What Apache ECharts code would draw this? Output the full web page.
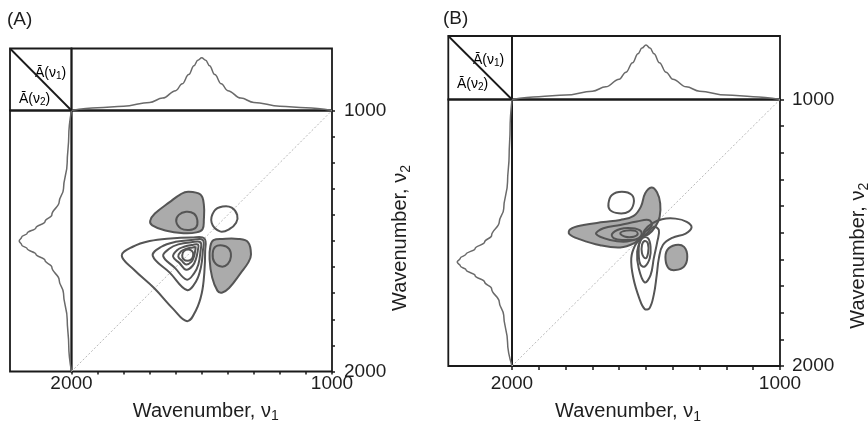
<!DOCTYPE html>
<html>
<head>
<meta charset="utf-8">
<script src="https://cdn.jsdelivr.net/npm/echarts@6/dist/echarts.min.js"></script>
<style>
  html, body { margin: 0; padding: 0; background: #ffffff; }
  #chart { width: 868px; height: 433px; }
</style>
</head>
<body>
<div id="chart"></div>
<script>
// ---- Averaged 1D spectra (wavenumber in cm-1, absorbance in relative units) ----
const specWnA = [1000, 1100, 1200, 1300, 1350, 1400, 1425, 1450, 1470, 1485, 1500, 1515, 1530, 1550, 1575, 1600, 1650, 1700, 1800, 1900, 2000];
const specA1  = [0.0, 0.045, 0.07, 0.13, 0.2, 0.32, 0.43, 0.58, 0.72, 0.81, 0.85, 0.81, 0.72, 0.58, 0.43, 0.32, 0.2, 0.13, 0.07, 0.045, 0.0];
const specA2  = [0.0, 0.045, 0.07, 0.13, 0.2, 0.32, 0.43, 0.58, 0.72, 0.81, 0.85, 0.81, 0.72, 0.58, 0.43, 0.32, 0.2, 0.13, 0.07, 0.045, 0.0];
const specWnB1 = [1000, 1100, 1200, 1300, 1350, 1400, 1425, 1450, 1470, 1485, 1500, 1515, 1530, 1550, 1575, 1600, 1650, 1700, 1800, 1900, 2000];
const specB1   = [0.0, 0.045, 0.07, 0.13, 0.2, 0.32, 0.43, 0.58, 0.72, 0.81, 0.86, 0.81, 0.72, 0.58, 0.43, 0.32, 0.2, 0.13, 0.07, 0.045, 0.0];
const specWnB2 = [1000, 1110, 1210, 1310, 1410, 1460, 1510, 1535, 1560, 1580, 1595, 1610, 1625, 1640, 1660, 1685, 1710, 1760, 1810, 1910, 2000];
const specB2   = [0.0, 0.03, 0.045, 0.07, 0.13, 0.2, 0.32, 0.43, 0.58, 0.72, 0.81, 0.86, 0.81, 0.72, 0.58, 0.43, 0.32, 0.2, 0.13, 0.07, 0.0];

// ---- Axis ticks ----
const tickStep = 100;
const tickLabels = [1000, 2000];

// ---- (A) synchronous map: contour outlines as [nu1, nu2] ----
const aNegUpperOuter = [[1552,1311],[1505,1322],[1492,1360],[1492,1420],[1497,1455],[1520,1467],[1570,1470],[1640,1460],[1690,1440],[1698,1423],[1680,1395],[1622,1350],[1580,1320]];
const aNegUpperInner = [[1598,1425],[1588,1400],[1560,1388],[1530,1395],[1517,1420],[1522,1448],[1548,1458],[1580,1452]];
const aNegLowerOuter = [[1311,1552],[1322,1505],[1360,1492],[1420,1492],[1455,1497],[1467,1520],[1470,1570],[1460,1640],[1440,1690],[1423,1698],[1395,1680],[1350,1622],[1320,1580]];
const aNegLowerInner = [[1425,1598],[1400,1588],[1388,1560],[1395,1530],[1420,1517],[1448,1522],[1458,1548],[1452,1580]];
const aPosSmall  = [[1462,1430],[1452,1385],[1420,1368],[1385,1372],[1364,1400],[1368,1430],[1395,1455],[1430,1463]];
const aPosLevel1 = [[1807,1556],[1765,1522],[1700,1500],[1620,1490],[1540,1487],[1490,1490],[1487,1540],[1490,1620],[1500,1700],[1522,1765],[1556,1807],[1610,1760],[1682,1681],[1760,1610]];
const aPosLevel2 = [[1688,1557],[1655,1522],[1600,1503],[1540,1496],[1496,1496],[1496,1540],[1503,1600],[1522,1655],[1557,1688],[1622,1622]];
const aPosLevel3 = [[1648,1558],[1625,1530],[1590,1513],[1540,1505],[1505,1505],[1505,1540],[1513,1590],[1530,1625],[1558,1648],[1603,1603]];
const aPosLevel4 = [[1610,1560],[1595,1535],[1568,1522],[1535,1515],[1514,1514],[1515,1535],[1522,1568],[1535,1595],[1560,1610],[1585,1585]];
const aPosLevel5 = [[1590,1560],[1580,1540],[1560,1530],[1535,1525],[1524,1524],[1525,1535],[1530,1560],[1540,1580],[1560,1590],[1576,1576]];
const aPosLevel6 = [[1575,1555],[1568,1538],[1550,1533],[1536,1540],[1533,1555],[1540,1570],[1555,1576],[1570,1570]];

// ---- (B) asynchronous map: contour outlines as [nu1, nu2] ----
const bNegOuter = [[1480,1330],[1459,1348],[1447,1390],[1449,1440],[1465,1477],[1490,1505],[1518,1516],[1546,1540],[1596,1555],[1671,1547],[1746,1525],[1786,1505],[1783,1487],[1733,1471],[1659,1460],[1596,1452],[1546,1437],[1519,1402],[1503,1352]];
const bNegLevel2 = [[1686,1505],[1659,1483],[1596,1471],[1534,1458],[1490,1452],[1478,1471],[1500,1494],[1524,1518],[1571,1533],[1634,1527]];
const bNegLevel3 = [[1627,1505],[1596,1486],[1553,1483],[1521,1492],[1519,1512],[1540,1525],[1584,1527],[1619,1521]];
const bNegLevel4 = [[1596,1502],[1574,1492],[1540,1493],[1531,1505],[1546,1515],[1577,1515]];
const bNegSmall  = [[1390,1640],[1358,1627],[1346,1590],[1358,1553],[1390,1546],[1421,1565],[1427,1602],[1415,1634]];
const bPosOuter  = [[1330,1480],[1348,1459],[1390,1447],[1440,1449],[1477,1465],[1505,1490],[1516,1518],[1540,1546],[1555,1596],[1547,1671],[1525,1746],[1505,1786],[1487,1783],[1471,1733],[1460,1659],[1452,1596],[1437,1546],[1402,1519],[1352,1503]];
const bPosLevel2 = [[1505,1686],[1483,1659],[1471,1596],[1458,1534],[1452,1490],[1471,1478],[1494,1500],[1518,1524],[1533,1571],[1527,1634]];
const bPosLevel3 = [[1505,1627],[1486,1596],[1483,1553],[1492,1521],[1512,1519],[1525,1540],[1527,1584],[1521,1619]];
const bPosLevel4 = [[1502,1596],[1492,1574],[1493,1540],[1505,1531],[1515,1546],[1515,1577]];
const bPosSmall  = [[1640,1390],[1627,1358],[1590,1346],[1553,1358],[1546,1390],[1565,1421],[1602,1427],[1634,1415]];

// Drawing order per panel (negative levels are shaded)
const contoursA = [
  { pts: aNegUpperOuter, neg: true }, { pts: aNegUpperInner, neg: true },
  { pts: aNegLowerOuter, neg: true }, { pts: aNegLowerInner, neg: true },
  { pts: aPosSmall, neg: false },
  { pts: aPosLevel1, neg: false }, { pts: aPosLevel2, neg: false }, { pts: aPosLevel3, neg: false },
  { pts: aPosLevel4, neg: false }, { pts: aPosLevel5, neg: false }, { pts: aPosLevel6, neg: false }
];
const contoursB = [
  { pts: bNegOuter, neg: true }, { pts: bNegLevel2, neg: true }, { pts: bNegLevel3, neg: true }, { pts: bNegLevel4, neg: true },
  { pts: bNegSmall, neg: true },
  { pts: bPosOuter, neg: false }, { pts: bPosLevel2, neg: false }, { pts: bPosLevel3, neg: false }, { pts: bPosLevel4, neg: false },
  { pts: bPosSmall, neg: false }
];

// ---- Styling ----
const FONT = "'Liberation Sans', Arial, Helvetica, sans-serif";
const FRAME = '#1a1a1a';
const CLINE = '#555555';
const SHADE = '#ababab';
const SPEC = '#6a6a6a';
const TEXT = '#1e1e1e';

// Panel frames in pixels: corner box size, map box
const layouts = [
  { left: 10, top: 48.5, stripW: 61.5, stripH: 62, mapW: 260.5, mapH: 261,
    tick: { len: 3, margin: 3 }, nameGapX: 27, nameGapY: 55, namePadX: [0, 0, 0, 8], namePadY: [0, 0, 0, 6],
    spec1: [specWnA, specA1], spec2: [specWnA, specA2], contours: contoursA },
  { left: 448.3, top: 36, stripW: 63.7, stripH: 63.5, mapW: 268, mapH: 266.5,
    tick: { len: 4, margin: 8 }, nameGapX: 33, nameGapY: 66, namePadX: [0, 36, 0, 0], namePadY: [0, 46, 0, 0],
    spec1: [specWnB1, specB1], spec2: [specWnB2, specB2], contours: contoursB }
];

const grids = [], xAxes = [], yAxes = [], series = [];
const hiddenAxis = { show: false, splitLine: { show: false } };

const nameRich = {
  t: { fontSize: 20, fontFamily: FONT, color: TEXT },
  s: { fontSize: 14, fontFamily: FONT, color: TEXT, padding: [11, 0, 0, 0] }
};

layouts.forEach(function (L) {
  const base = grids.length;
  const mapLeft = L.left + L.stripW, mapTop = L.top + L.stripH;
  const gridStyle = { show: true, borderColor: FRAME, borderWidth: 1.8, backgroundColor: 'transparent', outerBoundsMode: 'none', containLabel: false };
  // corner box, top strip, left strip, correlation map
  grids.push(Object.assign({ left: L.left, top: L.top, width: L.stripW, height: L.stripH }, gridStyle));
  grids.push(Object.assign({ left: mapLeft, top: L.top, width: L.mapW, height: L.stripH }, gridStyle));
  grids.push(Object.assign({ left: L.left, top: mapTop, width: L.stripW, height: L.mapH }, gridStyle));
  grids.push(Object.assign({ left: mapLeft, top: mapTop, width: L.mapW, height: L.mapH }, gridStyle));

  // corner box axes
  xAxes.push(Object.assign({ type: 'value', gridIndex: base, min: 0, max: 1 }, hiddenAxis));
  yAxes.push(Object.assign({ type: 'value', gridIndex: base, min: 0, max: 1 }, hiddenAxis));
  // top strip: nu1 horizontally, absorbance up
  xAxes.push(Object.assign({ type: 'value', gridIndex: base + 1, min: 1000, max: 2000, inverse: true }, hiddenAxis));
  yAxes.push(Object.assign({ type: 'value', gridIndex: base + 1, min: 0, max: 1 }, hiddenAxis));
  // left strip: absorbance to the left, nu2 downward
  xAxes.push(Object.assign({ type: 'value', gridIndex: base + 2, min: 0, max: 1, inverse: true }, hiddenAxis));
  yAxes.push(Object.assign({ type: 'value', gridIndex: base + 2, min: 1000, max: 2000, inverse: true }, hiddenAxis));

  const labelFmt = function (v) { return tickLabels.indexOf(v) >= 0 ? String(v) : ''; };
  const tickStyle = { show: true, inside: false, length: L.tick.len, lineStyle: { color: FRAME, width: 1.5 } };
  // correlation map axes
  xAxes.push({
    type: 'value', gridIndex: base + 3, min: 1000, max: 2000, interval: tickStep, inverse: true, position: 'bottom',
    axisLine: { show: false }, axisTick: tickStyle, splitLine: { show: false },
    axisLabel: { formatter: labelFmt, margin: L.tick.margin, fontSize: 19, color: TEXT, fontFamily: FONT, showMinLabel: true, showMaxLabel: true },
    name: '{t|Wavenumber, ν}{s|1}', nameLocation: 'middle', nameGap: L.nameGapX,
    nameTextStyle: { rich: nameRich, padding: L.namePadX }
  });
  yAxes.push({
    type: 'value', gridIndex: base + 3, min: 1000, max: 2000, interval: tickStep, inverse: true, position: 'right',
    axisLine: { show: false }, axisTick: tickStyle, splitLine: { show: false },
    axisLabel: { formatter: labelFmt, margin: 12, fontSize: 19, color: TEXT, fontFamily: FONT, showMinLabel: true, showMaxLabel: true },
    name: '{t|Wavenumber, ν}{s|2}', nameLocation: 'middle', nameGap: L.nameGapY, nameRotate: 90,
    nameTextStyle: { rich: nameRich, padding: L.namePadY }
  });

  // corner diagonal separating the two spectrum captions
  series.push({ type: 'line', xAxisIndex: base, yAxisIndex: base, data: [[0, 1], [1, 0]], symbol: 'none',
    lineStyle: { color: FRAME, width: 1.8 }, silent: true });
  // averaged spectrum along nu1
  series.push({ type: 'line', xAxisIndex: base + 1, yAxisIndex: base + 1, symbol: 'none', smooth: 0.4, smoothMonotone: 'x',
    data: L.spec1[0].map(function (w, i) { return [w, L.spec1[1][i]]; }),
    lineStyle: { color: SPEC, width: 1.5 }, silent: true, z: 1 });
  // averaged spectrum along nu2
  series.push({ type: 'line', xAxisIndex: base + 2, yAxisIndex: base + 2, symbol: 'none', smooth: 0.4, smoothMonotone: 'y',
    data: L.spec2[0].map(function (w, i) { return [L.spec2[1][i], w]; }),
    lineStyle: { color: SPEC, width: 1.5 }, silent: true, z: 1 });
  // main diagonal nu1 = nu2
  series.push({ type: 'line', xAxisIndex: base + 3, yAxisIndex: base + 3, symbol: 'none',
    data: [[2000, 2000], [1000, 1000]], lineStyle: { color: '#b8b8b8', width: 1, type: [2, 2] }, silent: true, z: 1 });
  // correlation contours
  const cs = L.contours;
  series.push({
    type: 'custom', coordinateSystem: 'cartesian2d', xAxisIndex: base + 3, yAxisIndex: base + 3,
    data: cs.map(function (c) { return c.pts[0]; }), silent: true, z: 3, clip: true,
    renderItem: function (params, api) {
      const c = cs[params.dataIndex];
      const pts = c.pts.map(function (p) { return api.coord(p); });
      return { type: 'polygon', shape: { points: pts, smooth: 0.4 },
        style: { fill: c.neg ? SHADE : 'none', stroke: CLINE, lineWidth: 2 } };
    }
  });
});

// captions: panel letters and spectrum labels in the corner boxes
const capRich = {
  a: { fontSize: 14, fontFamily: FONT, color: TEXT },
  s: { fontSize: 10, fontFamily: FONT, color: TEXT, padding: [6, 0, 0, 0] }
};
function caption(x, y, idx) {
  return { type: 'text', x: x, y: y, silent: true,
    style: { text: '{a|Ā(ν}{s|' + idx + '}{a|)}', rich: capRich, verticalAlign: 'middle', align: 'left' } };
}
const graphics = [
  { type: 'text', x: 7, y: 20, silent: true, style: { text: '(A)', fontSize: 19, fontFamily: FONT, fill: TEXT, verticalAlign: 'middle' } },
  { type: 'text', x: 443, y: 18.5, silent: true, style: { text: '(B)', fontSize: 19, fontFamily: FONT, fill: TEXT, verticalAlign: 'middle' } },
  caption(35, 73, 1), caption(19, 99, 2),
  caption(473, 60.5, 1), caption(457, 84, 2)
];

const chart = echarts.init(document.getElementById('chart'), null, { renderer: 'canvas' });
chart.setOption({
  animation: false,
  backgroundColor: '#ffffff',
  textStyle: { fontFamily: FONT },
  grid: grids,
  xAxis: xAxes,
  yAxis: yAxes,
  series: series,
  graphic: graphics
});
</script>
</body>
</html>
